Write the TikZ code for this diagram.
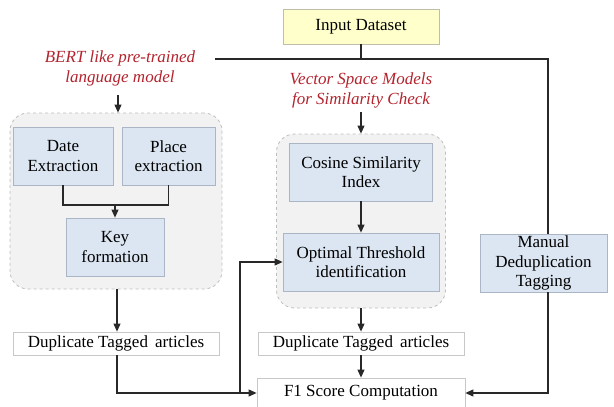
\documentclass[tikz,border=0pt]{standalone}
\usepackage{fontspec}
\setmainfont{Liberation Serif}
\usetikzlibrary{arrows.meta}
\definecolor{bluefill}{RGB}{220,230,242}
\definecolor{blueline}{RGB}{170,182,198}
\definecolor{yellowfill}{RGB}{255,255,204}
\definecolor{yellowline}{RGB}{190,190,170}
\definecolor{groupfill}{RGB}{242,242,242}
\definecolor{groupline}{RGB}{190,190,190}
\definecolor{whiteline}{RGB}{200,200,200}
\definecolor{redtext}{RGB}{180,35,45}
\definecolor{conn}{RGB}{40,40,40}
\tikzset{
  every node/.style={font=\fontsize{17}{19.5}\selectfont, align=center, inner sep=0pt},
  bluebox/.style={draw=blueline, fill=bluefill, line width=0.8pt},
  inbox/.style={draw=yellowline, fill=yellowfill, line width=0.8pt},
  groupbox/.style={draw=groupline, fill=groupfill, dashed, line width=0.8pt, rounded corners=18pt},
  outbox/.style={draw=whiteline, fill=white, line width=0.8pt},
  redlabel/.style={text=redtext, font=\fontsize{17}{19.5}\selectfont\itshape},
  conline/.style={draw=conn, line width=1.1pt},
  arr/.style={conline, -{Triangle[width=7pt,length=8pt]}}
}
\begin{document}
\begin{tikzpicture}[x=1pt,y=-1pt]
\useasboundingbox (0,0) rectangle (614,407);
% groups
\node[groupbox, minimum width=212pt, minimum height=176pt] (gl) at (116,201) {};
\node[groupbox, minimum width=169pt, minimum height=174pt] (gm) at (361,221) {};
% boxes
\node[inbox, minimum width=156pt, minimum height=35pt] (input) at (361,26.5) {Input Dataset};
\node[redlabel] (bert) at (120,68.5) {BERT like pre-trained\\language model};
\node[redlabel] (vsm) at (361,90.5) {Vector Space Models\\for Similarity Check};
\node[bluebox, minimum width=100pt, minimum height=58pt] (date) at (63,156) {Date\\Extraction};
\node[bluebox, minimum width=93pt, minimum height=58pt] (place) at (168.5,156) {Place\\extraction};
\node[bluebox, minimum width=98pt, minimum height=58pt] (key) at (115,247) {Key\\formation};
\node[outbox, minimum width=206pt, minimum height=23pt] (dupl) at (116,343.5) {Duplicate Tagged\, articles};
\node[bluebox, minimum width=143pt, minimum height=58pt] (cos) at (361,172) {Cosine Similarity\\Index};
\node[bluebox, minimum width=156pt, minimum height=58pt] (opt) at (361,262) {Optimal Threshold\\identification};
\node[outbox, minimum width=206pt, minimum height=23pt] (dupm) at (361,343.5) {Duplicate Tagged\, articles};
\node[outbox, minimum width=208pt, minimum height=34pt] (f1) at (361,395) {};
\node (f1t) at (361,393) {F1 Score Computation};
\node[bluebox, minimum width=127pt, minimum height=58pt] (man) at (543.5,263) {Manual\\Deduplication\\Tagging};
% coordinates
\coordinate (tl) at (215,59);
\coordinate (tm) at (361,59);
\coordinate (tr) at (548,59);
\coordinate (va) at (361,112);
\coordinate (ba) at (118,95);
% connectors
\draw[conline] (input.south) -- (tm);
\draw[conline] (tl) -- (tr) -- (man.north -| tr);
\draw[arr] (ba) -- (gl.north -| ba);
\draw[arr] (va) -- (gm.north);
\coordinate (jk) at (115,205);
\draw[conline] (date.south) |- (jk) -| (place.south);
\draw[arr] (jk) -- (key.north);
\coordinate (lx) at (117,0);
\draw[arr] (gl.south -| lx) -- (dupl.north -| lx);
\coordinate (jb) at (117,393);
\coordinate (jf) at (240,393);
\draw[arr] (dupl.south -| lx) -- (jb) -- (f1.west |- jb);
\draw[arr] (jf) |- (opt.west);
\draw[arr] (cos.south) -- (opt.north);
\draw[arr] (gm.south) -- (dupm.north);
\draw[arr] (dupm.south) -- (f1.north);
\draw[arr] (man.south -| tr) |- (f1.east |- jb);
\end{tikzpicture}
\end{document}
